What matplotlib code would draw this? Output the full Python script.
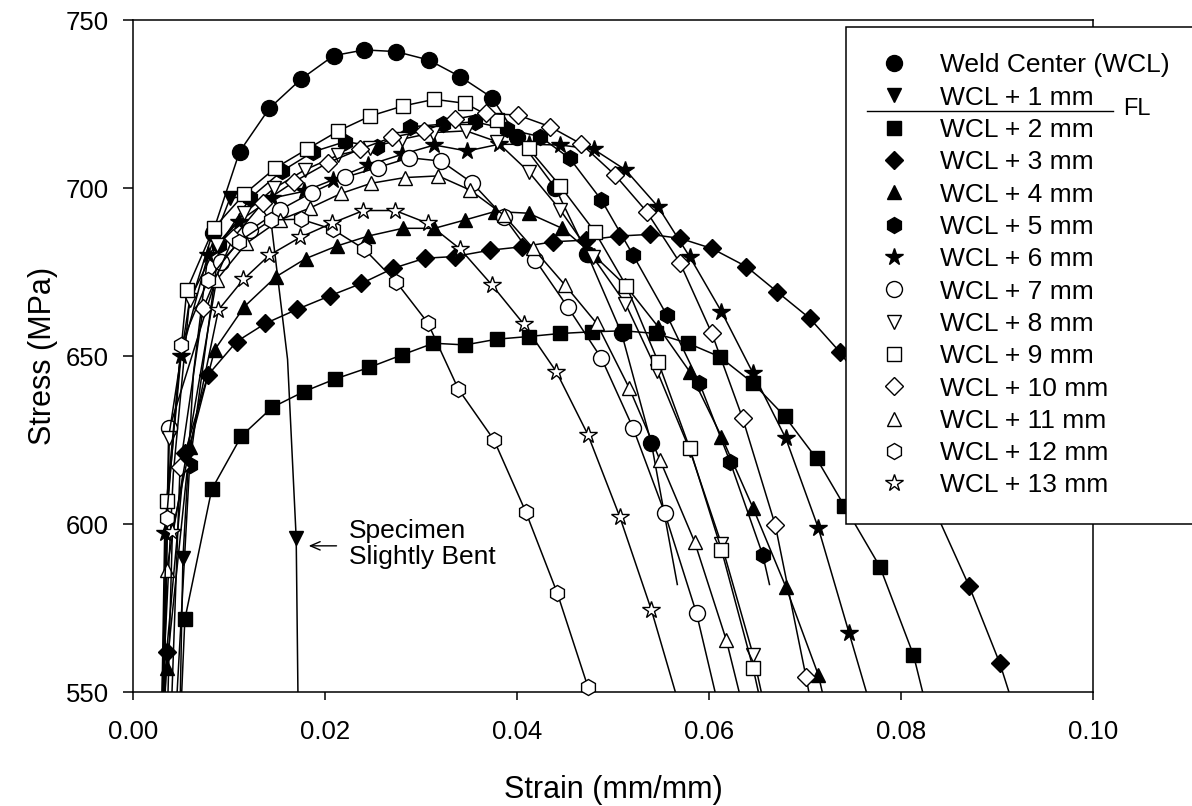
#!/usr/bin/env python3
# -*- coding:utf-8 -*-

import matplotlib
matplotlib.use("Agg")
import matplotlib.pyplot as plt
from matplotlib.lines import Line2D

plt.rcParams['font.family'] = ['Liberation Sans', 'DejaVu Sans']

# strain (mm/mm) / stress (MPa), one pair of lists per specimen
wc_x = [0.0030, 0.0042, 0.0058, 0.0083, 0.0111, 0.0142, 0.0175, 0.0209, 0.0241, 0.0274, 0.0308,
        0.0341, 0.0374, 0.0400, 0.0440, 0.0473, 0.0509, 0.0540, 0.0567]
wc_y = [545, 615, 664, 686.6, 710.8, 723.7, 732.4, 739.4, 741.1, 740.6, 738.1,
        733.1, 726.9, 715.3, 700.0, 680.5, 656.7, 624.0, 582.0]

w1_x = [0.0049, 0.0052, 0.0063, 0.0078, 0.0101, 0.0125, 0.0144, 0.0161, 0.0170, 0.0172]
w1_y = [545, 589.8, 645, 680, 696.9, 698, 689.5, 649, 595.7, 545]

w2_x = [0.0050, 0.0054, 0.0082, 0.0113, 0.0145, 0.0178, 0.0210, 0.0246, 0.0280, 0.0313, 0.0346,
        0.0379, 0.0412, 0.0445, 0.0478, 0.0511, 0.0545, 0.0578, 0.0611, 0.0646, 0.0679, 0.0712,
        0.0741, 0.0778, 0.0813, 0.0826]
w2_y = [545, 571.6, 610.3, 626.2, 634.7, 639.4, 643.1, 646.6, 650.3, 653.8, 653.3,
        655.0, 655.8, 656.7, 657.2, 657.5, 656.7, 653.8, 649.8, 641.9, 632.0, 619.5,
        605.4, 587.3, 561.0, 546]

w3_x = [0.0033, 0.0035, 0.0054, 0.0078, 0.0108, 0.0138, 0.0171, 0.0205, 0.0238, 0.0271, 0.0304,
        0.0335, 0.0372, 0.0405, 0.0438, 0.0472, 0.0506, 0.0539, 0.0570, 0.0603, 0.0639, 0.0671,
        0.0705, 0.0736, 0.0770, 0.0803, 0.0837, 0.0871, 0.0903, 0.0918]
w3_y = [545, 562, 621, 644.3, 654.3, 659.7, 663.9, 667.9, 671.6, 676.1, 679.1,
        679.6, 681.5, 682.5, 684.0, 684.5, 685.7, 686.2, 685.0, 682.0, 676.6, 669.1,
        661.2, 651.3, 638, 622, 603, 581.5, 558.5, 545]

w4_x = [0.0032, 0.0035, 0.0059, 0.0085, 0.0116, 0.0149, 0.0180, 0.0212, 0.0245, 0.0281, 0.0314,
        0.0346, 0.0377, 0.0412, 0.0447, 0.0480, 0.0513, 0.0547, 0.0580, 0.0613, 0.0646, 0.0680,
        0.0714, 0.0722]
w4_y = [545, 557, 623, 651.8, 664.7, 673.6, 679.0, 682.7, 685.7, 688.0, 688.0,
        690.5, 693.0, 692.5, 688.0, 680, 671, 658.7, 645.3, 626.0, 604.7, 581.3,
        555.0, 545]

w5_x = [0.0045, 0.0059, 0.0090, 0.0122, 0.0155, 0.0188, 0.0221, 0.0254, 0.0289, 0.0323, 0.0356,
        0.0390, 0.0424, 0.0455, 0.0488, 0.0521, 0.0556, 0.0590, 0.0622, 0.0656, 0.0663]
w5_y = [545, 617.6, 683, 697, 705, 710.8, 713.8, 712.3, 718.2, 719.0, 719.7,
        717.5, 715.3, 708.8, 696.4, 680.0, 662.2, 642.0, 618.5, 590.8, 582]

w6_x = [0.0030, 0.0033, 0.0050, 0.0078, 0.0110, 0.0145, 0.0178, 0.0208, 0.0245, 0.0280, 0.0314,
        0.0348, 0.0381, 0.0412, 0.0445, 0.0480, 0.0513, 0.0547, 0.0580, 0.0613, 0.0646, 0.0680,
        0.0714, 0.0746, 0.0766]
w6_y = [545, 597.2, 650, 680, 690, 697, 699, 702.4, 706.8, 710, 712.8,
        711, 713, 713, 712.8, 711.5, 705.4, 694.4, 679.5, 663.2, 644.8, 625.5,
        598.7, 567.5, 548]

w7_x = [0.0032, 0.0038, 0.0092, 0.0122, 0.0153, 0.0186, 0.0221, 0.0255, 0.0288, 0.0321, 0.0353,
        0.0386, 0.0419, 0.0453, 0.0488, 0.0521, 0.0554, 0.0587, 0.0608]
w7_y = [545, 628.5, 678.1, 687.5, 693.5, 698.6, 703.2, 706.1, 709.0, 708.0, 701.6,
        691.5, 678.6, 664.5, 649.3, 628.5, 603.2, 573.4, 548]

w8_x = [0.0032, 0.0037, 0.0059, 0.0087, 0.0116, 0.0147, 0.0179, 0.0214, 0.0247, 0.0280, 0.0313,
        0.0347, 0.0379, 0.0412, 0.0445, 0.0479, 0.0513, 0.0546, 0.0580, 0.0613, 0.0646, 0.0656]
w8_y = [545, 625.5, 666.7, 683, 692.5, 699.9, 705.4, 709.8, 712, 714.5, 716.5,
        717.0, 713.8, 704.9, 693.5, 679.5, 665.6, 645.5, 622.0, 594, 561, 548]

w9_x = [0.0031, 0.0035, 0.0056, 0.0084, 0.0116, 0.0148, 0.0181, 0.0214, 0.0247, 0.0281, 0.0314,
        0.0346, 0.0379, 0.0412, 0.0445, 0.0481, 0.0514, 0.0547, 0.0580, 0.0613, 0.0646, 0.0653]
w9_y = [545, 606.9, 669.6, 688.0, 698.2, 705.9, 711.5, 717.0, 721.4, 724.4, 726.4,
        725.2, 720.2, 711.8, 700.6, 687.0, 670.8, 648.3, 622.5, 592.3, 557.0, 548]

w10_x = [0.0040, 0.0049, 0.0073, 0.0104, 0.0135, 0.0168, 0.0203, 0.0236, 0.0270, 0.0303, 0.0335,
         0.0368, 0.0401, 0.0434, 0.0467, 0.0502, 0.0535, 0.0570, 0.0603, 0.0635, 0.0669, 0.0701,
         0.0706]
w10_y = [545, 616.9, 664.2, 685.0, 695.6, 701.9, 707.5, 711.5, 715.1, 717.0, 720.5,
         722.2, 721.7, 718.3, 713.1, 703.9, 693.0, 677.6, 656.7, 631.5, 599.7, 554.6,
         547]

w11_x = [0.0031, 0.0035, 0.0087, 0.0118, 0.0153, 0.0184, 0.0217, 0.0248, 0.0283, 0.0318, 0.0351,
         0.0386, 0.0417, 0.0450, 0.0483, 0.0517, 0.0549, 0.0585, 0.0618, 0.0634]
w11_y = [545, 586.3, 672.6, 683.5, 690.5, 694.0, 698.4, 701.4, 703.1, 703.6, 699.4,
         692.0, 682.0, 671.1, 659.7, 640.4, 619.0, 594.7, 565.5, 547]

w12_x = [0.0030, 0.0035, 0.0050, 0.0078, 0.0110, 0.0144, 0.0175, 0.0208, 0.0241, 0.0274, 0.0307,
         0.0339, 0.0376, 0.0409, 0.0442, 0.0474, 0.0478]
w12_y = [545, 601.7, 653.3, 672.5, 684, 690.5, 690.7, 687.7, 681.8, 672.1, 659.9,
         640.1, 625.0, 603.7, 579.4, 551.4, 545]

w13_x = [0.0036, 0.0041, 0.0089, 0.0115, 0.0142, 0.0174, 0.0207, 0.0240, 0.0273, 0.0307, 0.0341,
         0.0374, 0.0407, 0.0441, 0.0474, 0.0507, 0.0540, 0.0567]
w13_y = [545, 597.7, 663.7, 672.8, 680.0, 685.3, 689.5, 693.3, 693.3, 689.5, 681.8,
         671.1, 659.5, 645.3, 626.5, 602.2, 574.4, 548]

labels = ['Weld Center (WCL)', 'WCL + 1 mm', 'WCL + 2 mm', 'WCL + 3 mm', 'WCL + 4 mm',
          'WCL + 5 mm', 'WCL + 6 mm', 'WCL + 7 mm', 'WCL + 8 mm', 'WCL + 9 mm',
          'WCL + 10 mm', 'WCL + 11 mm', 'WCL + 12 mm', 'WCL + 13 mm']
xs = [wc_x, w1_x, w2_x, w3_x, w4_x, w5_x, w6_x, w7_x, w8_x, w9_x, w10_x, w11_x, w12_x, w13_x]
ys = [wc_y, w1_y, w2_y, w3_y, w4_y, w5_y, w6_y, w7_y, w8_y, w9_y, w10_y, w11_y, w12_y, w13_y]
# which vertices carry a symbol (the rest are plain line points)
marked = [list(range(3, len(wc_x) - 1)), [1, 4, 8]] + [list(range(1, len(x) - 1)) for x in xs[2:]]

symbols = ['o', 'v', 's', 'D', '^', 'h', '*', 'o', 'v', 's', 'D', '^', 'h', '*']
msize = {'o': 11.5, 'v': 10.5, 's': 10.5, 'D': 9, '^': 10.5, 'h': 11.5, '*': 13}

fig = plt.figure(figsize=(11.92, 8.06), dpi=100)
ax = fig.add_axes([133/1192, 114/806, 960/1192, 672/806])

handles = []
for i in range(len(labels)):
    face = 'k' if i < 7 else 'w'
    ax.plot(xs[i], ys[i], '-', color='k', lw=1.1, zorder=2 + i*0.1)
    mx = [xs[i][j] for j in marked[i]]
    my = [ys[i][j] for j in marked[i]]
    ax.plot(mx, my, ls='none', marker=symbols[i], ms=msize[symbols[i]], mfc=face, mec='k',
            mew=1.0, clip_on=False, zorder=2.05 + i*0.1)
    handles.append(Line2D([], [], ls='none', marker=symbols[i], ms=msize[symbols[i]],
                          mfc=face, mec='k', mew=1.0))

ax.set_xlim(0, 0.1)
ax.set_ylim(550, 750)
ax.set_xticks([0.0, 0.02, 0.04, 0.06, 0.08, 0.10])
ax.set_xticklabels(["{:.2f}".format(v) for v in [0.0, 0.02, 0.04, 0.06, 0.08, 0.10]])
ax.set_yticks([550, 600, 650, 700, 750])
for s in ax.spines.values():
    s.set_linewidth(1.1)
ax.tick_params(axis='both', direction='out', width=1.1, labelsize=18.5, top=False, right=False)
ax.tick_params(axis='y', length=7.2, pad=10)
ax.tick_params(axis='x', length=6, pad=14)

ax.set_xlabel("Strain (mm/mm)", fontsize=22)
ax.set_ylabel("Stress (MPa)", fontsize=22)
ax.xaxis.set_label_coords(0.5, -0.1235)
ax.yaxis.set_label_coords(-0.078, 0.5)

# bent specimen note
ax.text(0.0225, 594, "Specimen\nSlightly Bent", fontsize=19, ha='left', va='center', linespacing=1.12)
ax.annotate('', xy=(0.0183, 593.5), xytext=(0.0212, 593.5),
            arrowprops=dict(arrowstyle='->,head_length=0.7,head_width=0.3', lw=1.0,
                            shrinkA=0, shrinkB=0, color='k'))

leg = ax.legend(handles, labels, loc='upper left', bbox_to_anchor=(846/1192, 1 - 27/806),
                bbox_transform=fig.transFigure, borderaxespad=0, fontsize=19, frameon=True,
                fancybox=False, framealpha=1, edgecolor='k', borderpad=1.0, labelspacing=0.315,
                handlelength=1.64, handletextpad=0.92, numpoints=1)
leg.get_frame().set_linewidth(1.1)
leg.set_zorder(10)

# fusion line marker inside legend
fig.add_artist(Line2D([867/1192, 1113/1192], [1 - 111/806, 1 - 111/806],
                      transform=fig.transFigure, color='k', lw=1.0, zorder=20))
fig.text(1123/1192, 1 - 109/806, "FL", fontsize=17, ha='left', va='center', zorder=20)

plt.savefig("out.png", dpi=100)
